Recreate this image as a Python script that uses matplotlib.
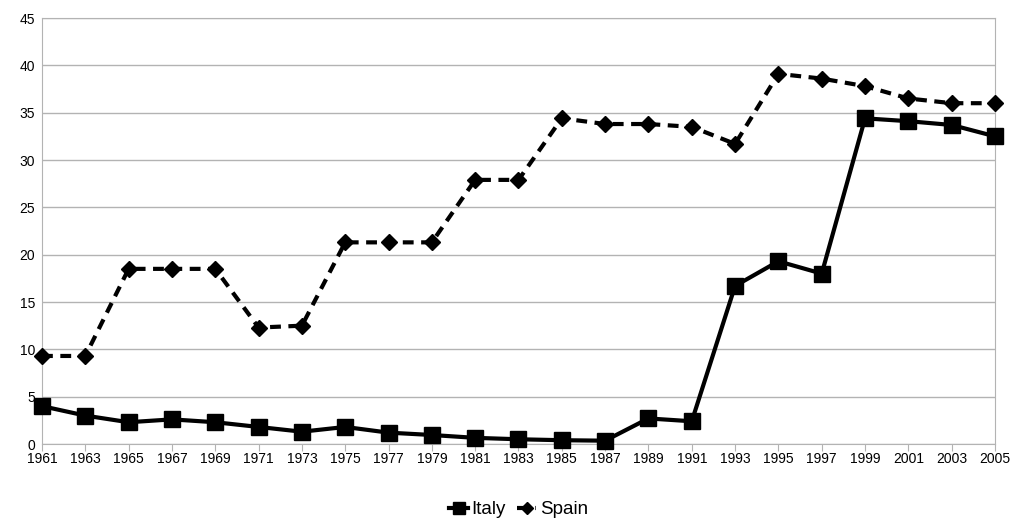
import matplotlib.pyplot as plt
import numpy as np

years = np.arange(1961, 2006, 2)
italy = [4.0, 3.0, 2.3, 2.6, 2.3, 1.8, 1.3, 1.8, 1.2, 0.95, 0.65, 0.5, 0.4, 0.35,
         2.7, 2.4, 16.7, 19.3, 18.0, 34.4, 34.1, 33.7, 32.5]
spain = [9.3, 9.3, 18.5, 18.5, 18.5, 12.3, 12.5, 21.3, 21.3, 21.3, 27.9, 27.9, 34.4,
         33.8, 33.8, 33.5, 31.7, 39.1, 38.6, 37.8, 36.5, 36.0, 36.0]

plt.rcParams['font.family'] = ['Liberation Sans', 'DejaVu Sans']

fig = plt.figure(figsize=(10.13, 5.19), dpi=100)
ax = fig.add_axes([42 / 1013, 75 / 519, 953 / 1013, 426 / 519])

ax.plot(years, italy, color="black", lw=3, marker="s", ms=11, label="Italy", clip_on=False, zorder=3)
ax.plot(years, spain, color="black", lw=3, ls=(0, (2.6, 1.8)), marker="D", ms=8, label="Spain",
        clip_on=False, zorder=3)

ax.set_xlim(1961, 2005)
ax.set_ylim(0, 45)
ax.set_xticks(years)
ax.set_yticks(range(0, 46, 5))
ax.yaxis.grid(True, color="#b3b3b3", lw=1)
ax.set_axisbelow(True)
for s in ax.spines.values():
    s.set_color("#b3b3b3")
ax.tick_params(axis='x', colors="#b3b3b3", labelcolor="black", length=5, labelsize=10, pad=1)
ax.tick_params(axis='y', length=0, labelsize=10, pad=5)

ax.legend(loc="upper center", bbox_to_anchor=(0.5, -0.095), ncol=2, frameon=False,
          fontsize=13.5, handlelength=1.0, handletextpad=0.2, columnspacing=0.6,
          markerscale=0.75)

fig.savefig("out.png", dpi=100)
